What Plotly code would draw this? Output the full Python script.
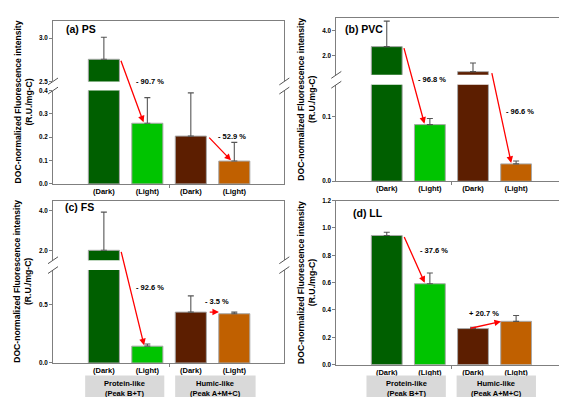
import plotly.graph_objects as go

W, H = 567, 397

# ---------------- data ----------------
positions = [0, 1, 2, 3]
tick_labels = ["(Dark)", "(Light)", "(Dark)", "(Light)"]
bar_colors = ["#005F00", "#00C400", "#5C1E00", "#C06000"]
group_labels = ["Protein-like<br>(Peak B+T)", "Humic-like<br>(Peak A+M+C)"]

ps_values = [2.756, 0.26, 0.205, 0.098]
ps_errors = [0.254, 0.11, 0.185, 0.08]
pvc_values = [2.72, 0.088, 0.755, 0.027]
pvc_errors = [2.0, 0.0094, 0.675, 0.0044]
fs_values = [2.0, 0.145, 0.438, 0.424]
fs_errors = [1.92, 0.019, 0.14, 0.014]
ll_values = [0.945, 0.592, 0.264, 0.317]
ll_errors = [0.024, 0.079, 0.01, 0.043]

ps_changes = ["- 90.7 %", "- 52.9 %"]
pvc_changes = ["- 96.8 %", "- 96.6 %"]
fs_changes = ["- 92.6 %", "- 3.5 %"]
ll_changes = ["- 37.6 %", "+ 20.7 %"]

# ---------------- layout (pixels) ----------------
FONT = "Arial, Liberation Sans, sans-serif"
GRAY = "#7F7F7F"
XRANGE = [-1.17, 4.15]

panels = [
    dict(name="(a) PS", values=ps_values, errors=ps_errors, changes=ps_changes,
         left=45, right=276.3, label_xy=(56, 17.5),
         segs=[dict(top=9, bot=70.7, range=[2.5, 3.2], ticks=[2.5, 3.0]),
               dict(top=80, bot=175, range=[0, 0.4], ticks=[0, 0.1, 0.2, 0.3, 0.4])],
         arrows=[(0.38, 0, 0.92, 1, 0, 1), (2.39, 2, 2.94, 3, 1, 1)],
         change_pos=[(1.07, 0.627), (2.94, 0.289)], groups=False),
    dict(name="(b) PVC", values=pvc_values, errors=pvc_errors, changes=pvc_changes,
         left=328.3, right=557.7, label_xy=(335, 17.7),
         segs=[dict(top=5.7, bot=64, range=[0.5, 5.0], ticks=[2.0, 4.0]),
               dict(top=74, bot=172.3, range=[0, 0.15], ticks=[0, 0.1])],
         arrows=[(0.39, 0, 0.88, 1, 0, 1), (2.43, 2, 2.89, 3, 0, 1)],
         change_pos=[(1.04, 0.62), (3.10, 0.428)], groups=False),
    dict(name="(c) FS", values=fs_values, errors=fs_errors, changes=fs_changes,
         left=45, right=276.3, label_xy=(55, 198.3),
         segs=[dict(top=192, bot=252.7, range=[1.5, 4.5], ticks=[2.0, 4.0]),
               dict(top=262.7, bot=357.3, range=[0, 0.8], ticks=[0, 0.5])],
         arrows=[(0.39, 0, 0.93, 1, 0, 1), (2.40, 2, 2.67, 2, 1, 1)],
         change_pos=[(1.07, 0.462), (2.60, 0.377)], groups=True,
         group_x=[(-0.43, 1.39), (1.64, 3.49)]),
    dict(name="(d) LL", values=ll_values, errors=ll_errors, changes=ll_changes,
         left=328.3, right=557.7, label_xy=(343, 205),
         segs=[dict(top=192, bot=359, range=[0, 1.2], ticks=[0, 0.2, 0.4, 0.6, 0.8, 1.0, 1.2])],
         arrows=[(0.39, 0, 0.89, 1, 0, 0), (1.91, 2, 2.67, 3, 0, 0)],
         change_pos=[(1.09, 0.693), (2.25, 0.313)], groups=True,
         group_x=[(-0.47, 1.37), (1.62, 3.46)]),
]

def py(p):
    return 1 - p / H

def px(p):
    return p / W

fig = go.Figure()
layout = dict(width=W, height=H, margin=dict(l=0, r=0, t=0, b=0),
              paper_bgcolor="white", plot_bgcolor="white", showlegend=False,
              bargap=0.285, font=dict(family=FONT, color="black"))
shapes, annotations = [], []
k = 0
for pn in panels:
    seg_ids = []
    nseg = len(pn["segs"])
    for si, seg in enumerate(pn["segs"]):
        k += 1
        sfx = "" if k == 1 else str(k)
        seg_ids.append(sfx)
        is_bottom = si == nseg - 1
        fig.add_trace(go.Bar(
            x=positions, y=pn["values"], xaxis="x" + sfx, yaxis="y" + sfx,
            marker=dict(color=bar_colors, line=dict(color="#A8A8A8", width=1)),
            error_y=dict(type="data", array=pn["errors"], arrayminus=[0] * 4,
                         symmetric=False, color="#555555", thickness=1.1, width=3),
        ))
        xa = dict(domain=[px(pn["left"]), px(pn["right"])], range=XRANGE,
                  anchor="y" + sfx, showgrid=False, zeroline=False,
                  showline=True, linecolor=GRAY, linewidth=1)
        if is_bottom:
            xa.update(tickmode="array", tickvals=positions, ticktext=tick_labels,
                      ticks="", tickfont=dict(size=7.5, weight="bold", family=FONT),
                      minor=dict(tickmode="array", tickvals=[1.5], ticks="outside",
                                 ticklen=3, tickcolor=GRAY),
                      mirror=(nseg == 1))
        else:
            xa.update(side="top", showticklabels=False, ticks="")
        ya = dict(domain=[py(seg["bot"]), py(seg["top"])], range=seg["range"],
                  anchor="x" + sfx, showgrid=False, zeroline=False,
                  showline=True, mirror=True, linecolor=GRAY, linewidth=1,
                  tickmode="array", tickvals=seg["ticks"], tickformat=".1f",
                  ticks="outside", ticklen=3, tickcolor=GRAY,
                  tickfont=dict(size=6.3, weight="bold", family=FONT))
        layout["xaxis" + sfx] = xa
        layout["yaxis" + sfx] = ya

    low = pn["segs"][-1]
    low_d0, low_d1 = py(low["bot"]), py(low["top"])

    def v2dom(seg_index, v):
        # value on a segment's axis -> fraction of the lowest segment's y domain
        seg = pn["segs"][seg_index]
        d0, d1 = py(seg["bot"]), py(seg["top"])
        r0, r1 = seg["range"]
        p = d0 + (v - r0) / (r1 - r0) * (d1 - d0)
        return (p - low_d0) / (low_d1 - low_d0)

    xref = "x" + seg_ids[-1]
    ydom = "y" + seg_ids[-1] + " domain"
    # break marks
    if nseg == 2:
        for yb in (pn["segs"][0]["bot"], pn["segs"][1]["top"]):
            for xb in (pn["left"], pn["right"]):
                shapes.append(dict(type="line", xref="paper", yref="paper",
                                   x0=px(xb - 5), y0=py(yb + 3.5),
                                   x1=px(xb + 5), y1=py(yb - 3.5),
                                   line=dict(color="#555555", width=1)))
    # arrows
    for (xt, it, xh, ih, st, sh) in pn["arrows"]:
        annotations.append(dict(
            x=xh, y=v2dom(sh, pn["values"][ih]), xref=xref, yref=ydom,
            ax=xt, ay=v2dom(st, pn["values"][it]), axref=xref, ayref=ydom,
            showarrow=True, text="", arrowhead=2, arrowsize=1, arrowwidth=1.3,
            arrowcolor="#FF0000", standoff=1))
    # percent labels
    ptop = pn["segs"][0]["top"]
    pbot = pn["segs"][-1]["bot"]
    for txt, (cx, fy) in zip(pn["changes"], pn["change_pos"]):
        annotations.append(dict(
            x=cx, y=py(pbot) + fy * (py(ptop) - py(pbot)), xref=xref, yref="paper",
            text=txt, showarrow=False, xanchor="center", yanchor="middle",
            font=dict(size=7.5, weight="bold", family=FONT)))
    # panel label
    annotations.append(dict(
        x=px(pn["label_xy"][0]), y=py(pn["label_xy"][1]), xref="paper", yref="paper",
        text=pn["name"], showarrow=False, xanchor="left", yanchor="middle",
        font=dict(size=10.5, weight="bold", family=FONT)))
    # y title
    annotations.append(dict(
        x=px(pn["left"] - 30), y=(py(ptop) + py(pbot)) / 2, xref="paper", yref="paper",
        text="DOC-normalized Fluorescence intensity<br>(R.U./mg-C)", textangle=-90,
        showarrow=False, xanchor="center", yanchor="middle",
        font=dict(size=8.6, weight="bold", family=FONT)))
    # group boxes
    if pn["groups"]:
        for (g0, g1), gl in zip(pn["group_x"], group_labels):
            shapes.append(dict(type="rect", xref=xref, yref="paper",
                               x0=g0, x1=g1, y0=py(396), y1=py(370),
                               fillcolor="#D9D9D9", line=dict(width=0)))
            annotations.append(dict(
                x=(g0 + g1) / 2, y=py(383), xref=xref, yref="paper", text=gl,
                showarrow=False, xanchor="center", yanchor="middle",
                font=dict(size=7.5, weight="bold", family=FONT)))

layout["shapes"] = shapes
layout["annotations"] = annotations
fig.update_layout(**layout)
fig.write_html("out.html")
